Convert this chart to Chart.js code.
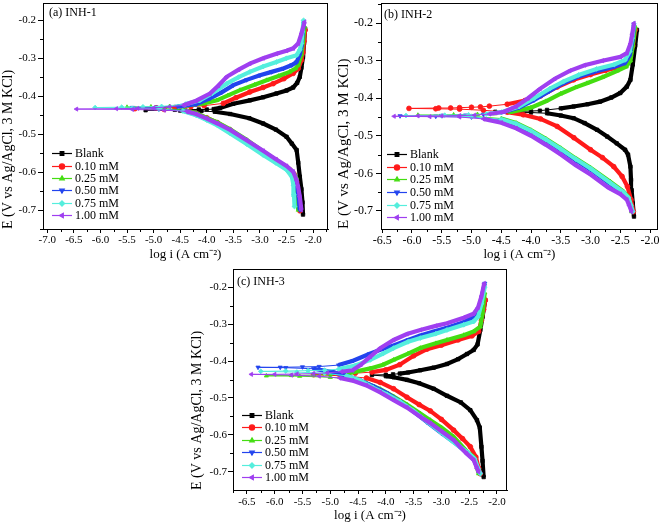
<!DOCTYPE html>
<html>
<head>
<meta charset="UTF-8">
<title>Tafel plots INH-1, INH-2, INH-3</title>
<script src="https://cdn.jsdelivr.net/npm/chart.js"></script>
<style>
  body { margin: 0; background: #fff; }
  #wrap { position: relative; width: 661px; height: 525px; overflow: hidden; }
  canvas { position: absolute; }
</style>
</head>
<body>
<div id="wrap">
  <canvas id="chartA" width="332" height="262" style="left:0px;top:0px"></canvas>
  <canvas id="chartB" width="326" height="262" style="left:335px;top:0px"></canvas>
  <canvas id="chartC" width="325" height="263" style="left:187px;top:262px"></canvas>
</div>
<script>
// legend labels
var seriesNames = ['Blank', '0.10 mM', '0.25 mM', '0.50 mM', '0.75 mM', '1.00 mM'];

// axis ticks
var xTicksA = [-7.0, -6.5, -6.0, -5.5, -5.0, -4.5, -4.0, -3.5, -3.0, -2.5, -2.0];
var xTicksBC = [-6.5, -6.0, -5.5, -5.0, -4.5, -4.0, -3.5, -3.0, -2.5, -2.0];
var yTicks = [-0.7, -0.6, -0.5, -0.4, -0.3, -0.2];

// [log i, E], in sweep order (cathodic -> Ecorr -> anodic)
// (a) INH-1
var inh1Blank = [[-2.19,-0.712],[-2.2,-0.68],[-2.22,-0.645],[-2.25,-0.612],[-2.28,-0.575],[-2.31,-0.542],[-2.4,-0.525],[-2.5,-0.507],[-2.7,-0.488],[-2.94,-0.472],[-3.2,-0.458],[-3.56,-0.447],[-3.85,-0.441],[-4.1,-0.439],[-4.5,-0.438],[-5.15,-0.437],[-4.6,-0.436],[-4.15,-0.435],[-4.0,-0.435],[-3.87,-0.434],[-3.75,-0.431],[-3.5,-0.42],[-3.19,-0.411],[-2.94,-0.403],[-2.69,-0.393],[-2.5,-0.385],[-2.375,-0.377],[-2.3,-0.365],[-2.25,-0.349],[-2.22,-0.325],[-2.19,-0.297],[-2.17,-0.26],[-2.15,-0.222]];
var inh1C010 = [[-2.25,-0.702],[-2.28,-0.67],[-2.31,-0.625],[-2.36,-0.605],[-2.44,-0.594],[-2.7,-0.568],[-2.94,-0.547],[-3.25,-0.52],[-3.56,-0.489],[-3.8,-0.47],[-4.0,-0.457],[-4.2,-0.446],[-4.4,-0.438],[-4.8,-0.435],[-5.35,-0.433],[-4.95,-0.431],[-4.6,-0.43],[-4.3,-0.428],[-4.05,-0.425],[-3.69,-0.419],[-3.45,-0.404],[-3.19,-0.389],[-2.94,-0.377],[-2.75,-0.367],[-2.55,-0.354],[-2.375,-0.34],[-2.28,-0.327],[-2.22,-0.305],[-2.19,-0.285],[-2.17,-0.255],[-2.15,-0.226]];
var inh1C025 = [[-2.28,-0.7],[-2.3,-0.66],[-2.31,-0.617],[-2.36,-0.604],[-2.44,-0.592],[-2.7,-0.568],[-2.94,-0.546],[-3.25,-0.515],[-3.56,-0.487],[-3.8,-0.469],[-4.0,-0.457],[-4.2,-0.445],[-4.45,-0.436],[-4.9,-0.432],[-5.5,-0.429],[-5.05,-0.428],[-4.7,-0.427],[-4.4,-0.425],[-4.05,-0.419],[-3.81,-0.411],[-3.6,-0.398],[-3.375,-0.384],[-3.1,-0.37],[-2.875,-0.358],[-2.65,-0.347],[-2.44,-0.336],[-2.33,-0.327],[-2.28,-0.318],[-2.22,-0.29],[-2.19,-0.255],[-2.16,-0.217]];
var inh1C050 = [[-2.25,-0.7],[-2.28,-0.66],[-2.33,-0.621],[-2.38,-0.608],[-2.44,-0.596],[-2.7,-0.573],[-2.94,-0.551],[-3.25,-0.522],[-3.56,-0.494],[-3.8,-0.474],[-4.0,-0.461],[-4.2,-0.449],[-4.45,-0.438],[-4.9,-0.434],[-5.4,-0.43],[-4.95,-0.429],[-4.55,-0.427],[-4.2,-0.421],[-3.94,-0.406],[-3.72,-0.39],[-3.5,-0.371],[-3.25,-0.357],[-3.0,-0.345],[-2.78,-0.336],[-2.56,-0.327],[-2.4,-0.318],[-2.31,-0.31],[-2.25,-0.29],[-2.22,-0.27],[-2.2,-0.24],[-2.18,-0.209]];
var inh1C075 = [[-2.35,-0.691],[-2.36,-0.66],[-2.37,-0.635],[-2.4,-0.612],[-2.5,-0.594],[-2.7,-0.576],[-2.94,-0.555],[-3.25,-0.526],[-3.56,-0.498],[-3.8,-0.477],[-4.0,-0.463],[-4.2,-0.45],[-4.45,-0.439],[-4.9,-0.434],[-5.4,-0.432],[-6.1,-0.43],[-5.6,-0.429],[-5.2,-0.428],[-4.85,-0.427],[-4.4,-0.421],[-4.13,-0.411],[-3.9,-0.393],[-3.625,-0.367],[-3.4,-0.35],[-3.19,-0.336],[-2.94,-0.322],[-2.69,-0.31],[-2.5,-0.3],[-2.31,-0.292],[-2.25,-0.278],[-2.22,-0.261],[-2.2,-0.23],[-2.18,-0.2]];
var inh1C100 = [[-2.22,-0.7],[-2.25,-0.665],[-2.28,-0.64],[-2.31,-0.621],[-2.375,-0.599],[-2.5,-0.584],[-2.7,-0.566],[-2.94,-0.544],[-3.25,-0.516],[-3.56,-0.489],[-3.8,-0.472],[-4.0,-0.459],[-4.2,-0.447],[-4.38,-0.44],[-4.8,-0.437],[-5.4,-0.435],[-6.45,-0.434],[-5.7,-0.433],[-5.3,-0.432],[-5.0,-0.431],[-4.7,-0.428],[-4.44,-0.424],[-4.2,-0.412],[-3.94,-0.393],[-3.78,-0.372],[-3.625,-0.349],[-3.4,-0.33],[-3.19,-0.314],[-2.94,-0.3],[-2.69,-0.288],[-2.5,-0.28],[-2.375,-0.274],[-2.28,-0.261],[-2.22,-0.235],[-2.16,-0.204]];

// (b) INH-2
var inh2Blank = [[-2.27,-0.715],[-2.29,-0.68],[-2.31,-0.645],[-2.32,-0.617],[-2.33,-0.582],[-2.37,-0.55],[-2.42,-0.537],[-2.56,-0.52],[-2.72,-0.502],[-2.89,-0.484],[-3.1,-0.466],[-3.285,-0.453],[-3.5,-0.446],[-3.73,-0.44],[-4.0,-0.438],[-4.3,-0.437],[-4.6,-0.436],[-4.25,-0.435],[-4.0,-0.434],[-3.85,-0.433],[-3.73,-0.431],[-3.5,-0.427],[-3.285,-0.422],[-3.05,-0.416],[-2.84,-0.409],[-2.65,-0.398],[-2.5,-0.386],[-2.39,-0.369],[-2.33,-0.351],[-2.29,-0.31],[-2.25,-0.26],[-2.22,-0.218]];
var inh2C010 = [[-2.28,-0.702],[-2.32,-0.67],[-2.38,-0.635],[-2.47,-0.608],[-2.61,-0.582],[-2.8,-0.558],[-3.0,-0.537],[-3.28,-0.505],[-3.56,-0.475],[-3.84,-0.455],[-4.13,-0.444],[-4.4,-0.437],[-4.8,-0.432],[-5.2,-0.429],[-5.6,-0.428],[-6.05,-0.427],[-5.55,-0.426],[-5.35,-0.426],[-5.2,-0.425],[-5.0,-0.424],[-4.85,-0.423],[-4.7,-0.421],[-4.4,-0.416],[-4.1,-0.406],[-3.84,-0.394],[-3.56,-0.37],[-3.285,-0.351],[-3.0,-0.337],[-2.75,-0.326],[-2.5,-0.316],[-2.4,-0.308],[-2.33,-0.29],[-2.29,-0.26],[-2.25,-0.218]];
var inh2C025 = [[-2.31,-0.702],[-2.33,-0.685],[-2.37,-0.662],[-2.45,-0.648],[-2.67,-0.622],[-3.0,-0.585],[-3.25,-0.56],[-3.5,-0.533],[-3.75,-0.508],[-4.0,-0.485],[-4.25,-0.466],[-4.5,-0.454],[-5.0,-0.448],[-5.9,-0.445],[-5.3,-0.444],[-4.9,-0.443],[-4.6,-0.441],[-4.35,-0.437],[-4.0,-0.425],[-3.75,-0.408],[-3.5,-0.388],[-3.25,-0.371],[-3.06,-0.36],[-2.8,-0.344],[-2.55,-0.327],[-2.4,-0.316],[-2.33,-0.3],[-2.29,-0.26],[-2.25,-0.209]];
var inh2C050 = [[-2.3,-0.702],[-2.33,-0.685],[-2.37,-0.665],[-2.45,-0.652],[-2.67,-0.628],[-3.0,-0.59],[-3.25,-0.565],[-3.5,-0.538],[-3.75,-0.512],[-4.0,-0.489],[-4.25,-0.47],[-4.5,-0.457],[-5.0,-0.45],[-5.6,-0.448],[-6.2,-0.447],[-5.5,-0.446],[-5.1,-0.445],[-4.8,-0.443],[-4.5,-0.438],[-4.2,-0.425],[-3.95,-0.405],[-3.7,-0.382],[-3.51,-0.364],[-3.25,-0.345],[-2.95,-0.33],[-2.6,-0.316],[-2.42,-0.306],[-2.34,-0.285],[-2.3,-0.25],[-2.27,-0.209]];
var inh2C075 = [[-2.29,-0.702],[-2.32,-0.685],[-2.36,-0.665],[-2.45,-0.65],[-2.67,-0.625],[-3.0,-0.587],[-3.25,-0.562],[-3.5,-0.535],[-3.75,-0.51],[-4.0,-0.487],[-4.25,-0.468],[-4.5,-0.456],[-5.0,-0.449],[-5.5,-0.447],[-6.1,-0.446],[-5.45,-0.445],[-5.05,-0.444],[-4.75,-0.442],[-4.5,-0.437],[-4.2,-0.422],[-3.95,-0.4],[-3.68,-0.374],[-3.45,-0.355],[-3.2,-0.338],[-2.9,-0.322],[-2.6,-0.31],[-2.42,-0.298],[-2.34,-0.275],[-2.3,-0.24],[-2.27,-0.202]];
var inh2C100 = [[-2.31,-0.702],[-2.35,-0.685],[-2.39,-0.67],[-2.5,-0.655],[-2.7,-0.638],[-3.0,-0.603],[-3.25,-0.578],[-3.5,-0.55],[-3.75,-0.524],[-4.0,-0.5],[-4.25,-0.48],[-4.5,-0.465],[-4.8,-0.455],[-5.2,-0.45],[-5.7,-0.449],[-6.3,-0.448],[-5.9,-0.447],[-5.5,-0.447],[-5.2,-0.446],[-4.95,-0.445],[-4.7,-0.442],[-4.45,-0.436],[-4.25,-0.422],[-4.05,-0.4],[-3.85,-0.375],[-3.6,-0.348],[-3.35,-0.327],[-3.1,-0.312],[-2.8,-0.3],[-2.5,-0.29],[-2.39,-0.28],[-2.33,-0.255],[-2.3,-0.23],[-2.27,-0.2]];

// (c) INH-3
var inh3Blank = [[-2.24,-0.714],[-2.26,-0.67],[-2.28,-0.632],[-2.31,-0.58],[-2.36,-0.56],[-2.48,-0.533],[-2.65,-0.512],[-2.9,-0.494],[-3.14,-0.475],[-3.4,-0.46],[-3.62,-0.451],[-3.86,-0.444],[-4.0,-0.441],[-4.25,-0.438],[-4.0,-0.437],[-3.87,-0.436],[-3.75,-0.434],[-3.6,-0.431],[-3.38,-0.425],[-3.14,-0.418],[-2.9,-0.408],[-2.7,-0.395],[-2.54,-0.381],[-2.42,-0.37],[-2.35,-0.355],[-2.3,-0.316],[-2.26,-0.28],[-2.21,-0.235]];
var inh3C010 = [[-2.3,-0.705],[-2.33,-0.69],[-2.38,-0.66],[-2.48,-0.632],[-2.62,-0.61],[-2.78,-0.587],[-3.0,-0.558],[-3.2,-0.535],[-3.4,-0.518],[-3.62,-0.498],[-3.86,-0.475],[-4.1,-0.458],[-4.35,-0.446],[-4.8,-0.44],[-5.3,-0.437],[-4.85,-0.435],[-4.55,-0.433],[-4.25,-0.43],[-4.0,-0.424],[-3.75,-0.41],[-3.5,-0.386],[-3.26,-0.368],[-3.0,-0.357],[-2.7,-0.343],[-2.45,-0.332],[-2.33,-0.32],[-2.28,-0.29],[-2.24,-0.26],[-2.21,-0.235]];
var inh3C025 = [[-2.33,-0.705],[-2.36,-0.688],[-2.42,-0.66],[-2.55,-0.643],[-2.78,-0.605],[-3.0,-0.58],[-3.2,-0.56],[-3.38,-0.542],[-3.62,-0.518],[-3.86,-0.496],[-4.1,-0.476],[-4.35,-0.46],[-4.6,-0.449],[-5.0,-0.444],[-5.55,-0.441],[-6.15,-0.44],[-5.7,-0.439],[-5.3,-0.438],[-5.0,-0.437],[-4.7,-0.434],[-4.28,-0.42],[-4.05,-0.41],[-3.86,-0.397],[-3.6,-0.38],[-3.38,-0.365],[-3.1,-0.352],[-2.9,-0.343],[-2.6,-0.33],[-2.42,-0.32],[-2.3,-0.307],[-2.26,-0.27],[-2.22,-0.215]];
var inh3C050 = [[-2.3,-0.705],[-2.35,-0.69],[-2.42,-0.665],[-2.55,-0.647],[-2.78,-0.619],[-3.0,-0.595],[-3.26,-0.565],[-3.5,-0.537],[-3.74,-0.51],[-3.98,-0.487],[-4.23,-0.468],[-4.47,-0.452],[-4.71,-0.44],[-4.95,-0.43],[-5.3,-0.421],[-5.8,-0.418],[-6.3,-0.417],[-5.9,-0.417],[-5.5,-0.416],[-5.2,-0.415],[-4.85,-0.411],[-4.59,-0.399],[-4.3,-0.381],[-4.05,-0.367],[-3.86,-0.358],[-3.6,-0.343],[-3.38,-0.331],[-3.14,-0.32],[-2.9,-0.31],[-2.6,-0.295],[-2.42,-0.28],[-2.34,-0.265],[-2.28,-0.23],[-2.22,-0.19]];
var inh3C075 = [[-2.3,-0.705],[-2.34,-0.69],[-2.4,-0.665],[-2.52,-0.648],[-2.78,-0.62],[-3.0,-0.594],[-3.26,-0.564],[-3.5,-0.535],[-3.74,-0.51],[-3.98,-0.49],[-4.23,-0.472],[-4.47,-0.452],[-4.71,-0.44],[-5.1,-0.433],[-5.6,-0.43],[-6.25,-0.428],[-5.8,-0.427],[-5.4,-0.426],[-5.1,-0.425],[-4.85,-0.422],[-4.55,-0.412],[-4.28,-0.397],[-4.05,-0.38],[-3.86,-0.365],[-3.6,-0.348],[-3.38,-0.338],[-3.1,-0.326],[-2.9,-0.316],[-2.6,-0.302],[-2.42,-0.293],[-2.34,-0.28],[-2.28,-0.245],[-2.22,-0.2]];
var inh3C100 = [[-2.33,-0.7],[-2.36,-0.69],[-2.42,-0.668],[-2.55,-0.65],[-2.78,-0.614],[-3.0,-0.59],[-3.2,-0.568],[-3.38,-0.551],[-3.62,-0.526],[-3.86,-0.506],[-4.1,-0.485],[-4.35,-0.466],[-4.6,-0.453],[-4.83,-0.446],[-5.2,-0.441],[-5.7,-0.438],[-6.42,-0.436],[-6.0,-0.436],[-5.6,-0.435],[-5.3,-0.434],[-5.05,-0.432],[-4.8,-0.429],[-4.6,-0.425],[-4.45,-0.41],[-4.28,-0.388],[-4.1,-0.365],[-3.86,-0.343],[-3.62,-0.327],[-3.38,-0.316],[-3.1,-0.305],[-2.9,-0.298],[-2.6,-0.283],[-2.42,-0.272],[-2.34,-0.255],[-2.28,-0.225],[-2.23,-0.19]];

var seriesColors = ['#000000', '#ff1a1a', '#44dd11', '#2244ee', '#55eedd', '#9f3ff0'];
var seriesMarkers = [['rect', 0], ['circle', 0], ['triangle', 0], ['triangle', 180], ['rectRot', 0], ['triangle', 270]];

Chart.defaults.font.family = '"Liberation Serif", "Times New Roman", serif';
Chart.defaults.color = '#000';

var framePlugin = {
  id: 'frame',
  afterDraw: function(chart, args, opts) {
    var ctx = chart.ctx, a = chart.chartArea;
    var xs = chart.scales.x, ys = chart.scales.y;
    ctx.save();
    ctx.strokeStyle = '#000';
    ctx.lineWidth = 1;
    ctx.strokeRect(Math.round(a.left) + 0.5, Math.round(a.top) + 0.5, Math.round(a.right - a.left) - 1, Math.round(a.bottom - a.top));

    // minor ticks half way between the major ones
    ctx.beginPath();
    var xt = opts.xTicks, yt = opts.yTicks, v, i, p;
    for (i = -1; i < xt.length; i++) {
      v = i < 0 ? xt[0] - 0.25 : (i === xt.length - 1 ? xt[i] + 0.25 : (xt[i] + xt[i + 1]) / 2);
      if (v < xs.min || v > xs.max) continue;
      p = Math.round(xs.getPixelForValue(v)) + 0.5;
      ctx.moveTo(p, a.bottom); ctx.lineTo(p, a.bottom + 3);
    }
    for (i = -1; i < yt.length; i++) {
      v = i < 0 ? yt[0] - 0.05 : (i === yt.length - 1 ? yt[i] + 0.05 : (yt[i] + yt[i + 1]) / 2);
      if (v < ys.min || v > ys.max) continue;
      p = Math.round(ys.getPixelForValue(v)) + 0.5;
      ctx.moveTo(a.left - 3, p); ctx.lineTo(a.left, p);
    }
    ctx.stroke();

    // panel label
    ctx.fillStyle = '#000';
    ctx.font = opts.labelSize + 'px "Liberation Serif", serif';
    ctx.textAlign = 'left';
    ctx.textBaseline = 'middle';
    ctx.fillText(opts.label, a.left + opts.labelDx, a.top + opts.labelDy);

    // legend
    ctx.font = opts.legendSize + 'px "Liberation Serif", serif';
    chart.data.datasets.forEach(function(ds, k) {
      var lx = a.left + opts.legendDx, ly = Math.round(a.top + opts.legendDy + k * opts.legendGap) + 0.5;
      ctx.strokeStyle = ds.borderColor;
      ctx.fillStyle = ds.borderColor;
      ctx.lineWidth = 1.2;
      ctx.beginPath();
      ctx.moveTo(lx, ly); ctx.lineTo(lx + 20, ly);
      ctx.stroke();
      if (Chart.helpers && Chart.helpers.drawPoint) {
        Chart.helpers.drawPoint(ctx, {pointStyle: ds.pointStyle, rotation: ds.rotation, radius: 2.6, borderWidth: 1}, lx + 10, ly);
      } else {
        ctx.fillRect(lx + 8, ly - 2, 4, 4);
      }
      ctx.fillStyle = '#000';
      ctx.fillText(ds.label, lx + 23, ly + 0.5);
    });
    ctx.restore();
  }
};

// thin line with markers where the curve runs nearly flat (around Ecorr), thick elsewhere
function segWidth(c) {
  var dx = Math.abs(c.p1.x - c.p0.x), dy = Math.abs(c.p1.y - c.p0.y);
  return dy / (dx + 0.001) < 0.12 ? 1 : 4.2;
}

function makePanel(cfg) {
  var datasets = cfg.curves.map(function(curve, k) {
    return {
      label: seriesNames[k],
      data: curve.map(function(p) { return {x: p[0], y: p[1]}; }),
      showLine: true,
      borderColor: seriesColors[k],
      backgroundColor: seriesColors[k],
      borderWidth: 4.2,
      pointStyle: seriesMarkers[k][0],
      rotation: seriesMarkers[k][1],
      pointRadius: 2.4,
      pointBorderWidth: 0.8,
      pointHoverRadius: 2.4,
      order: 5 - k,
      segment: { borderWidth: segWidth }
    };
  });
  return new Chart(document.getElementById(cfg.id), {
    type: 'scatter',
    data: { datasets: datasets },
    plugins: [framePlugin],
    options: {
      responsive: false,
      animation: false,
      devicePixelRatio: 1,
      events: [],
      layout: { padding: { top: cfg.padTop, right: cfg.padRight, left: 0, bottom: 0 } },
      scales: {
        x: {
          type: 'linear',
          min: cfg.xMin,
          max: cfg.xMax,
          afterBuildTicks: function(s) { s.ticks = cfg.xTicks.map(function(v) { return {value: v}; }); },
          afterFit: function(s) { s.height = cfg.xAxisH; s.paddingLeft = 0; s.paddingRight = 0; },
          ticks: { autoSkip: false, maxRotation: 0, padding: cfg.xTickPad, font: { size: cfg.tickSize },
                   callback: function(v) { return v.toFixed(1); } },
          grid: { drawOnChartArea: false, drawTicks: true, tickLength: 4, tickColor: '#000', color: '#000' },
          border: { display: true, color: '#000' },
          title: { display: true, text: 'log i (A cm\u207B\u00B2)', font: { size: cfg.xTitleSize }, padding: { top: 0, bottom: cfg.xTitlePad } }
        },
        y: {
          type: 'linear',
          min: cfg.yMin,
          max: cfg.yMax,
          afterBuildTicks: function(s) { s.ticks = yTicks.map(function(v) { return {value: v}; }); },
          afterFit: function(s) { s.width = cfg.yAxisW; s.paddingTop = 0; s.paddingBottom = 0; },
          ticks: { autoSkip: false, padding: cfg.yTickPad, font: { size: cfg.tickSize },
                   callback: function(v) { return v.toFixed(1); } },
          grid: { drawOnChartArea: false, drawTicks: true, tickLength: 5, tickColor: '#000', color: '#000' },
          border: { display: true, color: '#000' },
          title: { display: true, align: 'start', text: 'E (V vs Ag/AgCl, 3 M KCl)', font: { size: cfg.yTitleSize }, padding: { top: cfg.yTitlePad, bottom: 0 } }
        }
      },
      plugins: {
        legend: { display: false },
        tooltip: { enabled: false },
        frame: {
          label: cfg.label, labelDx: cfg.labelDx, labelDy: cfg.labelDy, labelSize: 12,
          legendDx: cfg.legendDx, legendDy: cfg.legendDy, legendGap: cfg.legendGap, legendSize: 12,
          xTicks: cfg.xTicks, yTicks: yTicks
        }
      }
    }
  });
}

makePanel({
  id: 'chartA', label: '(a) INH-1', curves: [inh1Blank, inh1C010, inh1C025, inh1C050, inh1C075, inh1C100],
  xMin: -7.08, xMax: -1.72, yMin: -0.75, yMax: -0.155, xTicks: xTicksA,
  padTop: 3, padRight: 4, yAxisW: 43, xAxisH: 33,
  tickSize: 11, xTickPad: 1, yTickPad: 2, xTitleSize: 13, yTitleSize: 14, xTitlePad: 0, yTitlePad: 0,
  labelDx: 6, labelDy: 10, legendDx: 9, legendDy: 150, legendGap: 12.4
});
makePanel({
  id: 'chartB', label: '(b) INH-2', curves: [inh2Blank, inh2C010, inh2C025, inh2C050, inh2C075, inh2C100],
  xMin: -6.52, xMax: -1.87, yMin: -0.748, yMax: -0.147, xTicks: xTicksBC,
  padTop: 3, padRight: 3, yAxisW: 46, xAxisH: 33,
  tickSize: 12, xTickPad: 1, yTickPad: 3, xTitleSize: 13, yTitleSize: 15, xTitlePad: 0, yTitlePad: 0,
  labelDx: 3, labelDy: 12, legendDx: 6, legendDy: 151, legendGap: 12.6
});
makePanel({
  id: 'chartC', label: '(c) INH-3', curves: [inh3Blank, inh3C010, inh3C025, inh3C050, inh3C075, inh3C100],
  xMin: -6.75, xMax: -1.82, yMin: -0.749, yMax: -0.151, xTicks: xTicksBC,
  padTop: 7, padRight: 5, yAxisW: 46, xAxisH: 35,
  tickSize: 11, xTickPad: 2, yTickPad: 1, xTitleSize: 13, yTitleSize: 14, xTitlePad: 2, yTitlePad: 2,
  labelDx: 4, labelDy: 13, legendDx: 9, legendDy: 146, legendGap: 12.4
});
</script>
</body>
</html>
